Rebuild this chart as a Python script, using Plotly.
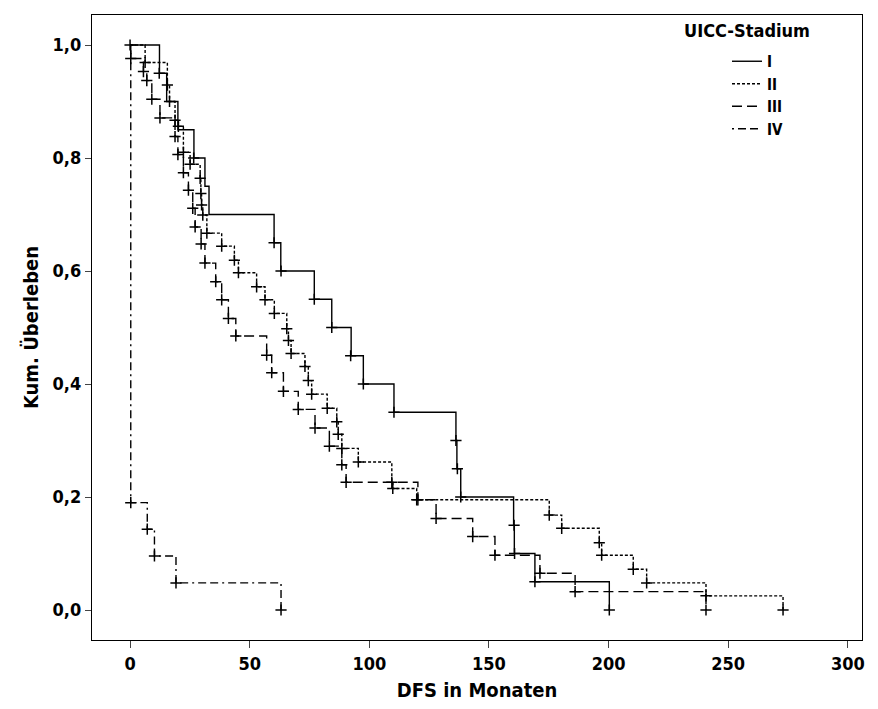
import plotly.graph_objects as go

# ---- data (months, cumulative survival) ----
stage1_t = [0, 12.3, 15.3, 20.0, 26.7, 31.3, 33.0, 60.2, 63.0, 77.0, 84.3, 92.4, 97.5, 110.3,
            136.2, 136.6, 138.2, 160.3, 160.6, 169.2, 200.3]
stage1_s = [1.0, 0.95, 0.90, 0.85, 0.80, 0.75, 0.70, 0.65, 0.60, 0.55, 0.50, 0.45, 0.40, 0.35,
            0.30, 0.25, 0.20, 0.15, 0.10, 0.05, 0.0]
stage1_ct = [0, 12.2, 26.6, 60.2, 63.1, 77.0, 84.3, 92.2, 97.5, 110.3, 136.2, 136.8, 138.2,
             160.5, 160.7, 169.2, 200.3]
stage1_cs = [1.0, 0.95, 0.80, 0.65, 0.60, 0.55, 0.50, 0.45, 0.40, 0.35, 0.30, 0.25, 0.20,
             0.15, 0.10, 0.05, 0.0]

stage2_t = [0, 6.3, 15.6, 16.5, 18.8, 20.2, 22.3, 25.1, 29.3, 29.6, 29.9, 30.4, 32.1, 38.3,
            43.6, 45.3, 52.9, 56.4, 60.3, 65.5, 66.2, 67.3, 73.1, 74.5, 75.9, 82.4, 86.4, 87.0,
            88.5, 95.4, 109.4, 109.8, 119.8, 175.2, 180.4, 196.1, 197.1, 210.3, 215.9, 240.7, 272.9]
stage2_s = [1.0, 0.969, 0.929, 0.90, 0.867, 0.856, 0.81, 0.789, 0.764, 0.737, 0.717, 0.699,
            0.667, 0.644, 0.619, 0.597, 0.572, 0.549, 0.525, 0.498, 0.477, 0.454, 0.431, 0.406,
            0.382, 0.357, 0.333, 0.311, 0.286, 0.262, 0.226, 0.215, 0.195, 0.168, 0.1446, 0.119,
            0.097, 0.072, 0.048, 0.025, 0.0]

stage3_t = [0, 0.3, 5.6, 7.0, 9.1, 12.5, 18.8, 20.0, 22.3, 24.4, 26.2, 27.2, 29.7, 31.3, 35.8,
            38.3, 41.1, 44.2, 57.1, 59.2, 64.1, 70.3, 77.3, 83.3, 88.5, 90.3, 120.3, 127.9, 143.2,
            152.5, 171.3, 186.0, 240.7]
stage3_s = [1.0, 0.976, 0.953, 0.937, 0.904, 0.871, 0.838, 0.806, 0.774, 0.743, 0.711, 0.678,
            0.648, 0.614, 0.581, 0.549, 0.516, 0.485, 0.451, 0.42, 0.387, 0.355, 0.322, 0.29,
            0.257, 0.226, 0.195, 0.162, 0.13, 0.097, 0.065, 0.0325, 0.0]

stage4_t = [0, 0.3, 7.2, 10.2, 19.2, 63.1]
stage4_s = [1.0, 0.19, 0.143, 0.0956, 0.048, 0.0]

stage_names = ["I", "II", "III", "IV"]
x_ticks = [0, 50, 100, 150, 200, 250, 300]
y_ticks = [0.0, 0.2, 0.4, 0.6, 0.8, 1.0]
y_tick_labels = ["0,0", "0,2", "0,4", "0,6", "0,8", "1,0"]

FONT = "Liberation Sans Narrow, DejaVu Sans Condensed, Arial, sans-serif"

def no_first(a):
    return a[1:]

curves = [
    (stage1_t, stage1_s, stage1_ct, stage1_cs, "solid"),
    (stage2_t, stage2_s, no_first(stage2_t), no_first(stage2_s), "3px,2px"),
    (stage3_t, stage3_s, no_first(stage3_t), no_first(stage3_s), "10px,5px"),
    (stage4_t, stage4_s, no_first(stage4_t), no_first(stage4_s), "2px,4px,8px,4px,8px,4px"),
]

fig = go.Figure()
for name, (t, s, ct, cs, dash) in zip(stage_names, curves):
    fig.add_trace(go.Scatter(
        x=t, y=s, mode="lines", name=name, line_shape="hv",
        line=dict(color="black", width=1.4, dash=dash),
    ))
    fig.add_trace(go.Scatter(
        x=ct, y=cs, mode="markers", showlegend=False, hoverinfo="skip",
        marker=dict(symbol="cross-thin", size=8, line=dict(color="black", width=1.5)),
    ))

fig.update_layout(
    width=878, height=709,
    margin=dict(l=92, r=16, t=15, b=69),
    paper_bgcolor="white", plot_bgcolor="white",
    font=dict(family=FONT, size=16, color="black"),
    showlegend=True,
    legend=dict(
        x=(727 - 92) / 770, y=(640 - 45) / 625, xanchor="left", yanchor="top",
        bgcolor="rgba(0,0,0,0)", borderwidth=0,
        font=dict(family=FONT, size=15, color="black", weight="bold"),
        tracegroupgap=0, itemwidth=30,
    ),
    annotations=[dict(
        text="<b>UICC-Stadium</b>", xref="paper", yref="paper",
        x=(682 - 92) / 770, y=(640 - 31) / 625, xanchor="left", yanchor="middle",
        showarrow=False, font=dict(family=FONT, size=18, color="black"),
    )],
)
fig.update_xaxes(
    range=[-15.9, 305.9], tickvals=x_ticks, ticks="outside", ticklen=7, tickwidth=1.3,
    showline=True, linecolor="black", linewidth=1.3, mirror=True, showgrid=False,
    zeroline=False, tickfont=dict(family=FONT, size=18, weight="bold"),
    title=dict(text="<b>DFS in Monaten</b>", font=dict(family=FONT, size=20), standoff=10),
)
fig.update_yaxes(
    range=[-0.0531, 1.0531], tickvals=y_ticks, ticktext=y_tick_labels, ticks="outside",
    ticklen=6, tickwidth=1.3, showline=True, linecolor="black", linewidth=1.3, mirror=True,
    showgrid=False, zeroline=False, tickfont=dict(family=FONT, size=18, weight="bold"),
    title=dict(text="<b>Kum. Überleben</b>", font=dict(family=FONT, size=20), standoff=8),
)

fig.write_html("out.html")
